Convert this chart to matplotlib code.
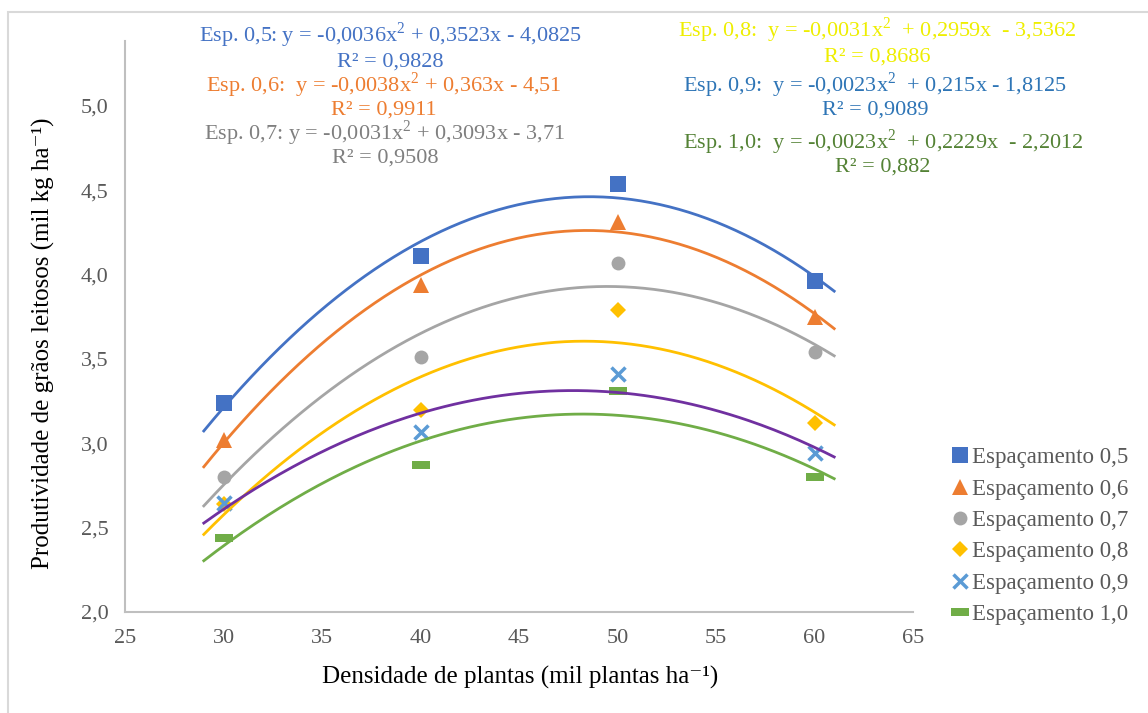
import matplotlib
matplotlib.use("Agg")
import matplotlib.pyplot as plt
import numpy as np
from matplotlib.patches import Rectangle

plt.rcParams["font.family"] = ["Liberation Serif", "DejaVu Serif"]
plt.rcParams["mathtext.fontset"] = "custom"
plt.rcParams["mathtext.rm"] = "Liberation Serif"

# densities (mil plantas/ha)
densidade = [30, 40, 50, 60]

# productivity per spacing (mil kg/ha)
esp_05 = [3.24, 4.11, 4.54, 3.96]
esp_06 = [3.02, 3.94, 4.31, 3.75]
esp_07 = [2.80, 3.51, 4.07, 3.54]
esp_08 = [2.64, 3.20, 3.79, 3.12]
esp_09 = [2.645, 3.07, 3.41, 2.94]
esp_10 = [2.44, 2.87, 3.31, 2.80]

labels = ["Espaçamento 0,5", "Espaçamento 0,6", "Espaçamento 0,7",
          "Espaçamento 0,8", "Espaçamento 0,9", "Espaçamento 1,0"]

sq = r"x$^{\mathregular{2}}$"
equations = [
    f"Esp. 0,5: y = -0,0036{sq} + 0,3523x - 4,0825",
    f"Esp. 0,6:  y = -0,0038{sq} + 0,363x - 4,51",
    f"Esp. 0,7: y = -0,0031{sq} + 0,3093x - 3,71",
    f"Esp. 0,8:  y = -0,0031{sq}  + 0,2959x  - 3,5362",
    f"Esp. 0,9:  y = -0,0023{sq}  + 0,215x - 1,8125",
    f"Esp. 1,0:  y = -0,0023{sq}  + 0,2229x  - 2,2012",
]
r2_values = ["R² = 0,9828", "R² = 0,9911", "R² = 0,9508",
             "R² = 0,8686", "R² = 0,9089", "R² = 0,882"]

series = [esp_05, esp_06, esp_07, esp_08, esp_09, esp_10]
marker_colors = ["#4472C4", "#ED7D31", "#A5A5A5", "#FFC000", "#5B9BD5", "#70AD47"]
line_colors = ["#4472C4", "#ED7D31", "#A5A5A5", "#FFC000", "#7030A0", "#70AD47"]
text_colors = ["#4472C4", "#ED7D31", "#7F7F7F", "#EEEE00", "#2E75B6", "#548235"]
dash = [(-1, -0.4), (1, -0.4), (1, 0.4), (-1, 0.4), (-1, -0.4)]
markers = ["s", "^", "o", "D", "x", dash]
msizes = [11, 11, 10, 8, 10, 13]

W, H = 1148, 713
fig = plt.figure(figsize=(W / 100, H / 100), dpi=100)
# outer chart border (only top and left edges fall inside the picture)
fig.patches.append(Rectangle((8 / W, -0.05), 1.1, 1 - 12 / H + 0.05,
                             transform=fig.transFigure, fill=False,
                             edgecolor="#D9D9D9", linewidth=1.5))
ax = fig.add_axes([125 / W, 101 / H, 788 / W, 571 / H])

xs = np.linspace(29, 61, 200)
for y, lab, mc, lc, m, ms in zip(series, labels, marker_colors, line_colors, markers, msizes):
    mew = 2.5 if m == "x" else 0
    ax.plot(densidade, y, linestyle="none", marker=m, markersize=ms,
            color=mc, markeredgewidth=mew, label=lab, zorder=2)
    coef = np.polyfit(densidade, y, 2)
    ax.plot(xs, np.polyval(coef, xs), color=lc, linewidth=2, zorder=3)

ax.set_xlim(25, 65)
ax.set_ylim(2.0, 5.385)
ax.set_xticks(np.arange(25, 66, 5))
ax.set_yticks(np.arange(2.0, 5.01, 0.5))
ax.set_yticklabels([f"{v:.1f}".replace(".", ",") for v in np.arange(2.0, 5.01, 0.5)])
ax.tick_params(length=0, labelsize=16, colors="#595959", pad=12)
for s in ["top", "right"]:
    ax.spines[s].set_visible(False)
for s in ["left", "bottom"]:
    ax.spines[s].set_color("#BFBFBF")
    ax.spines[s].set_linewidth(1.5)

ax.set_xlabel("Densidade de plantas (mil plantas ha⁻¹)", fontsize=18)
ax.set_ylabel("Produtividade de grãos leitosos (mil kg ha⁻¹)", fontsize=18)
ax.xaxis.set_label_coords(0.501, -0.095)
ax.yaxis.set_label_coords(-0.089, 0.47)

# trendline equations: (center x, eq y, r2 y) in pixels
eq_pos = [(390, 35, 62), (384, 85, 110), (385, 133, 158),
          (877, 30, 57), (875, 85, 110), (883, 142, 167)]
for eq, r2, (px, py1, py2), c in zip(equations, r2_values, eq_pos, text_colors):
    fig.text(px / W, 1 - py1 / H, eq, color=c, fontsize=16, ha="center", va="center")
    fig.text(px / W, 1 - py2 / H, r2, color=c, fontsize=16, ha="center", va="center")

ax.legend(loc="upper left", bbox_to_anchor=(938 / W, 1 - 438 / H),
          bbox_transform=fig.transFigure, frameon=False, fontsize=16.5,
          handletextpad=0.0, handlelength=1.1, labelspacing=0.45,
          labelcolor="#595959", borderaxespad=0)

fig.savefig("out.png", dpi=100)
